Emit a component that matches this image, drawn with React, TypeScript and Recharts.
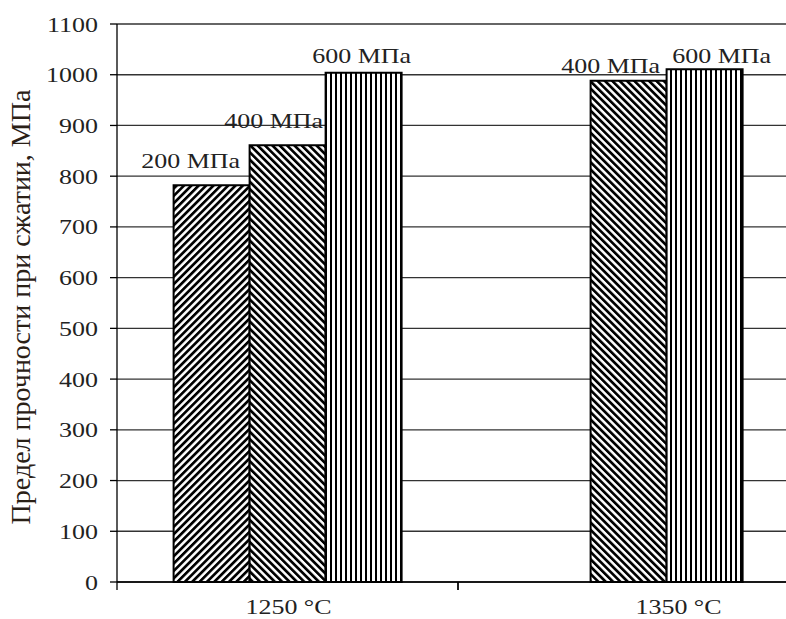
import { Bar, BarChart, CartesianGrid, LabelList, XAxis, YAxis } from 'recharts';

// категории и значения (МПа)
const categories = ['1250 °C', '1350 °C'];
const pressure200 = [782, null];
const pressure400 = [861, 988];
const pressure600 = [1004, 1011];
const seriesLabels = ['200 МПа', '400 МПа', '600 МПа'];
const yTicks = [0, 100, 200, 300, 400, 500, 600, 700, 800, 900, 1000, 1100];

const data = categories.map((name, i) => ({
  name,
  p200: pressure200[i],
  p400: pressure400[i],
  p600: pressure600[i],
}));

const FONT = '"Liberation Serif", "Times New Roman", serif';
const INK = '#222';
const STRETCH = 1.18;

const CHART_W = 812;
const CHART_H = 619;
const MARGIN = { top: 24, right: 13, bottom: 0, left: 0 };
const Y_AXIS_W = 117;
const X_AXIS_H = 37;
const PLOT_BOTTOM = CHART_H - MARGIN.bottom - X_AXIS_H;
const BAND = (CHART_W - MARGIN.right - MARGIN.left - Y_AXIS_W) / categories.length;

// ручные сдвиги подписей, как в исходной диаграмме
const xLabelShift = [1, 50];
const labelShift: Record<string, [number, number][]> = {
  p200: [[-21, -17], [0, 0]],
  p400: [[-14, -17], [-18, -8]],
  p600: [[-2, -10], [17, -6]],
};

const StretchText = ({ x, y, anchor, children }: any) => (
  <text
    transform={`translate(${x},${y}) scale(${STRETCH},1)`}
    textAnchor={anchor}
    fontFamily={FONT}
    fontSize={22}
    fill={INK}
  >
    {children}
  </text>
);

const YTick = (props: any) => {
  const { x, y, payload } = props;
  return (
    <StretchText x={x} y={y + 7.5} anchor='end'>
      {payload.value}
    </StretchText>
  );
};

const XTick = (props: any) => {
  const { x, payload, index } = props;
  const i = payload?.index ?? index ?? 0;
  const left = x - BAND / 2;
  return (
    <g>
      <line x1={left} x2={left} y1={PLOT_BOTTOM} y2={PLOT_BOTTOM + 8} stroke='#000' strokeWidth={1.3} />
      <line x1={left + BAND} x2={left + BAND} y1={PLOT_BOTTOM} y2={PLOT_BOTTOM + 8} stroke='#000' strokeWidth={1.3} />
      <StretchText x={x + (xLabelShift[i] || 0)} y={PLOT_BOTTOM + 32} anchor='middle'>
        {payload.value}
      </StretchText>
    </g>
  );
};

const makeLabel = (key: string, text: string) => (props: any) => {
  const { x, y, width, value, index } = props;
  if (value == null) return null;
  const [dx, dy] = labelShift[key][index] || [0, -8];
  return (
    <StretchText x={Number(x) + Number(width) / 2 + dx} y={Number(y) + dy} anchor='middle'>
      {text}
    </StretchText>
  );
};

const YTitle = () => (
  <text
    transform='translate(30,307) rotate(-90)'
    textAnchor='middle'
    fontFamily={FONT}
    fontSize={28}
    fill='#2a2016'
  >
    Предел прочности при сжатии, МПа
  </text>
);

const App = () => {
  return (
    <div
      style={{
        position: 'absolute',
        left: 0,
        top: 0,
        width: 786,
        height: 619,
        overflow: 'hidden',
        background: '#fff',
      }}
    >
      <BarChart
        width={CHART_W}
        height={CHART_H}
        data={data}
        margin={MARGIN}
        barCategoryGap='16.6%'
        barGap={0}
      >
        <defs>
          <pattern id='hatch200' patternUnits='userSpaceOnUse' width={5.2} height={5.2} patternTransform='rotate(45)'>
            <rect width={5.2} height={5.2} fill='#fff' />
            <rect width={2.7} height={5.2} fill='#000' />
          </pattern>
          <pattern id='hatch400' patternUnits='userSpaceOnUse' width={5.2} height={5.2} patternTransform='rotate(-45)'>
            <rect width={5.2} height={5.2} fill='#fff' />
            <rect width={2.7} height={5.2} fill='#000' />
          </pattern>
          <pattern id='hatch600' patternUnits='userSpaceOnUse' width={5} height={5}>
            <rect width={5} height={5} fill='#fff' />
            <rect width={2} height={5} fill='#000' />
          </pattern>
        </defs>
        <CartesianGrid vertical={false} stroke='#333' strokeWidth={1.3} />
        <XAxis
          dataKey='name'
          height={X_AXIS_H}
          interval={0}
          axisLine={{ stroke: '#000', strokeWidth: 1.3 }}
          tickLine={false}
          tick={<XTick />}
        />
        <YAxis
          width={Y_AXIS_W}
          domain={[0, 1100]}
          ticks={yTicks}
          interval={0}
          tickSize={7}
          tickMargin={12}
          axisLine={{ stroke: '#000', strokeWidth: 1.3 }}
          tickLine={{ stroke: '#000', strokeWidth: 1.3 }}
          tick={<YTick />}
          label={<YTitle />}
        />
        <Bar dataKey='p200' fill='url(#hatch200)' stroke='#000' strokeWidth={2} isAnimationActive={false}>
          <LabelList dataKey='p200' content={makeLabel('p200', seriesLabels[0])} />
        </Bar>
        <Bar dataKey='p400' fill='url(#hatch400)' stroke='#000' strokeWidth={2} isAnimationActive={false}>
          <LabelList dataKey='p400' content={makeLabel('p400', seriesLabels[1])} />
        </Bar>
        <Bar dataKey='p600' fill='url(#hatch600)' stroke='#000' strokeWidth={2} isAnimationActive={false}>
          <LabelList dataKey='p600' content={makeLabel('p600', seriesLabels[2])} />
        </Bar>
      </BarChart>
    </div>
  );
};

export default App;
